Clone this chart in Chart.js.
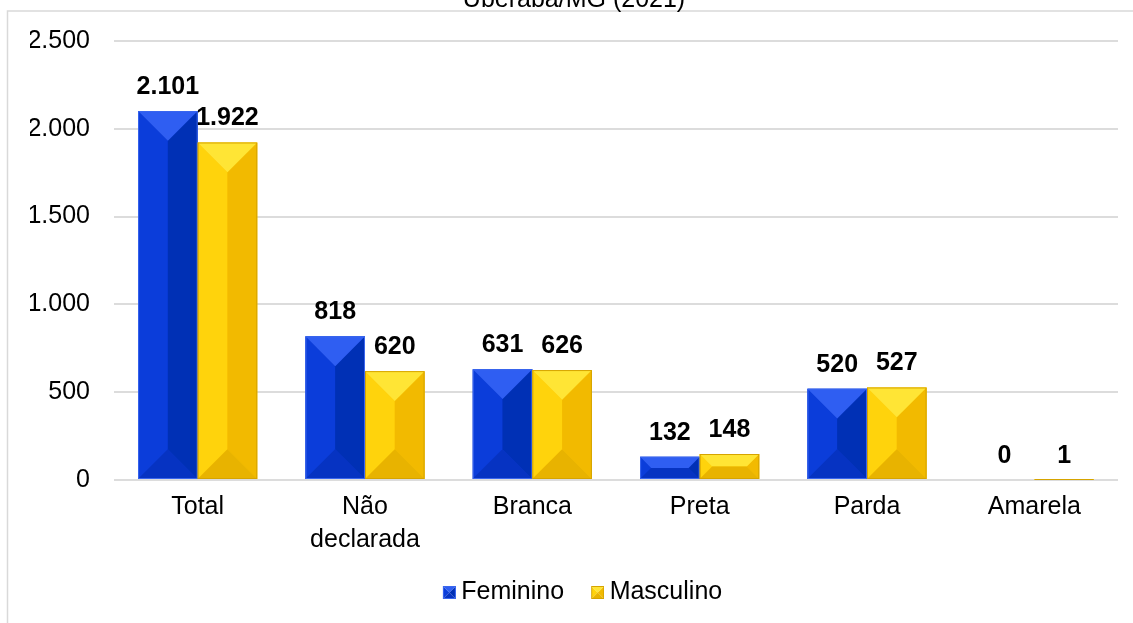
<!DOCTYPE html>
<html>
<head>
<meta charset="utf-8">
<script src="https://cdn.jsdelivr.net/npm/chart.js@4.4.0/dist/chart.umd.min.js"></script>
<style>
  html, body { margin: 0; padding: 0; background: #fff; overflow: hidden; }
  #wrap { position: relative; width: 1133px; height: 623px; overflow: hidden; }
  #wrap canvas { position: absolute; left: 0; top: -15px; }
</style>
</head>
<body>
<div id="wrap"><canvas id="chart" width="1133" height="640" style="width:1133px;height:640px"></canvas></div>
<script>
const categories = ['Total', ['Não', 'declarada'], 'Branca', 'Preta', 'Parda', 'Amarela'];
const feminino = [2101, 818, 631, 132, 520, 0];
const masculino = [1922, 620, 626, 148, 527, 1];
const yMax = 2500;
const yStep = 500;

// "2101" -> "2.101"
const fmt = v => v.toString().replace(/\B(?=(\d{3})+(?!\d))/g, '.');

const palettes = [
  { mid: '#0a37cc', top: '#2f5ef2', left: '#0b3dda', right: '#0030b5', bottom: '#0633c2', edge: '#3a66ee' },
  { mid: '#ffc800', top: '#ffe535', left: '#ffd30c', right: '#f2ba00', bottom: '#e8b300', edge: '#d6a400' }
];

function drawBevel(ctx, L, T, R, B, pal) {
  if (B - T < 0.5) return;
  const d = Math.min(R - L, B - T) / 2;
  const face = (pts, color) => {
    ctx.beginPath();
    ctx.moveTo(pts[0][0], pts[0][1]);
    for (let i = 1; i < pts.length; i++) ctx.lineTo(pts[i][0], pts[i][1]);
    ctx.closePath();
    ctx.fillStyle = color;
    ctx.fill();
  };
  face([[L, T], [L + d, T + d], [L + d, B - d], [L, B]], pal.left);
  face([[R, T], [R - d, T + d], [R - d, B - d], [R, B]], pal.right);
  face([[L + d, T + d], [R - d, T + d], [R - d, B - d], [L + d, B - d]], pal.mid);
  face([[L, T], [R, T], [R - d, T + d], [L + d, T + d]], pal.top);
  face([[L, B], [R, B], [R - d, B - d], [L + d, B - d]], pal.bottom);
  ctx.strokeStyle = pal.edge;
  ctx.lineWidth = 1;
  ctx.strokeRect(L + 0.5, T + 0.5, R - L - 1, Math.max(B - T - 1, 0));
}

// legend marker: small bevelled square at the right end of a wider transparent image,
// so the gap to the text stays small like in the original
function legendMarker(pal) {
  const c = document.createElement('canvas');
  c.width = 37; c.height = 13;
  drawBevel(c.getContext('2d'), 24, 0, 37, 13, pal);
  return c;
}

const bevelPlugin = {
  id: 'bevel',
  afterDatasetsDraw(chart) {
    const ctx = chart.ctx;
    chart.data.datasets.forEach((ds, i) => {
      chart.getDatasetMeta(i).data.forEach(bar => {
        const L = bar.x - bar.width / 2, R = bar.x + bar.width / 2;
        drawBevel(ctx, L, Math.min(bar.y, bar.base), R, Math.max(bar.y, bar.base), palettes[i]);
      });
    });
  }
};

const valueLabels = {
  id: 'valueLabels',
  afterDatasetsDraw(chart) {
    const ctx = chart.ctx;
    ctx.save();
    ctx.font = "bold 25px 'Liberation Sans', Arial, sans-serif";
    ctx.fillStyle = '#000';
    ctx.textAlign = 'center';
    ctx.textBaseline = 'alphabetic';
    chart.data.datasets.forEach((ds, i) => {
      chart.getDatasetMeta(i).data.forEach((bar, j) => {
        ctx.fillText(fmt(ds.data[j]), bar.x, bar.y - 17);
      });
    });
    ctx.restore();
  }
};

const framePlugin = {
  id: 'frame',
  beforeDraw(chart) {
    const ctx = chart.ctx;
    ctx.save();
    ctx.strokeStyle = '#d9d9d9';
    ctx.lineWidth = 1.5;
    ctx.strokeRect(7.5, 26, 3000, 3000);
    ctx.restore();
  }
};

Chart.defaults.font.family = "'Liberation Sans', Arial, sans-serif";
Chart.defaults.font.size = 25;
Chart.defaults.color = '#000';

const ctx = document.getElementById('chart').getContext('2d');
new Chart(ctx, {
  type: 'bar',
  data: {
    labels: categories,
    datasets: [
      {
        label: 'Feminino',
        data: feminino,
        backgroundColor: palettes[0].mid,
        borderWidth: 0,
        categoryPercentage: 0.712,
        barPercentage: 1.0
      },
      {
        label: 'Masculino',
        data: masculino,
        backgroundColor: palettes[1].mid,
        borderWidth: 0,
        categoryPercentage: 0.712,
        barPercentage: 1.0
      }
    ]
  },
  options: {
    responsive: false,
    animation: false,
    layout: { padding: { left: 30, right: 15, top: 0, bottom: 10 } },
    plugins: {
      title: {
        display: true,
        text: 'Uberaba/MG (2021)',
        font: { size: 25, weight: 'normal' },
        color: '#000',
        padding: { top: 0, bottom: 26 }
      },
      legend: {
        position: 'bottom',
        labels: {
          usePointStyle: true,
          pointStyleWidth: 23,
          boxHeight: 13,
          padding: 10,
          font: { size: 25 },
          generateLabels(chart) {
            const items = Chart.defaults.plugins.legend.labels.generateLabels(chart);
            items.forEach((it, i) => { it.pointStyle = legendMarker(palettes[i]); });
            return items;
          }
        }
      },
      tooltip: { enabled: false }
    },
    scales: {
      x: {
        grid: { display: false, drawTicks: false },
        border: { display: false },
        ticks: { padding: 11, font: { size: 25, lineHeight: 1.3 } },
        afterFit(scale) { scale.height = 90; }
      },
      y: {
        min: 0,
        max: yMax,
        grid: { color: '#dcdcdc', lineWidth: 2, drawTicks: false },
        border: { display: false },
        ticks: {
          stepSize: yStep,
          padding: 24,
          font: { size: 25 },
          callback: v => fmt(v)
        },
        afterFit(scale) { scale.width = 84; }
      }
    }
  },
  plugins: [framePlugin, bevelPlugin, valueLabels]
});
</script>
</body>
</html>
